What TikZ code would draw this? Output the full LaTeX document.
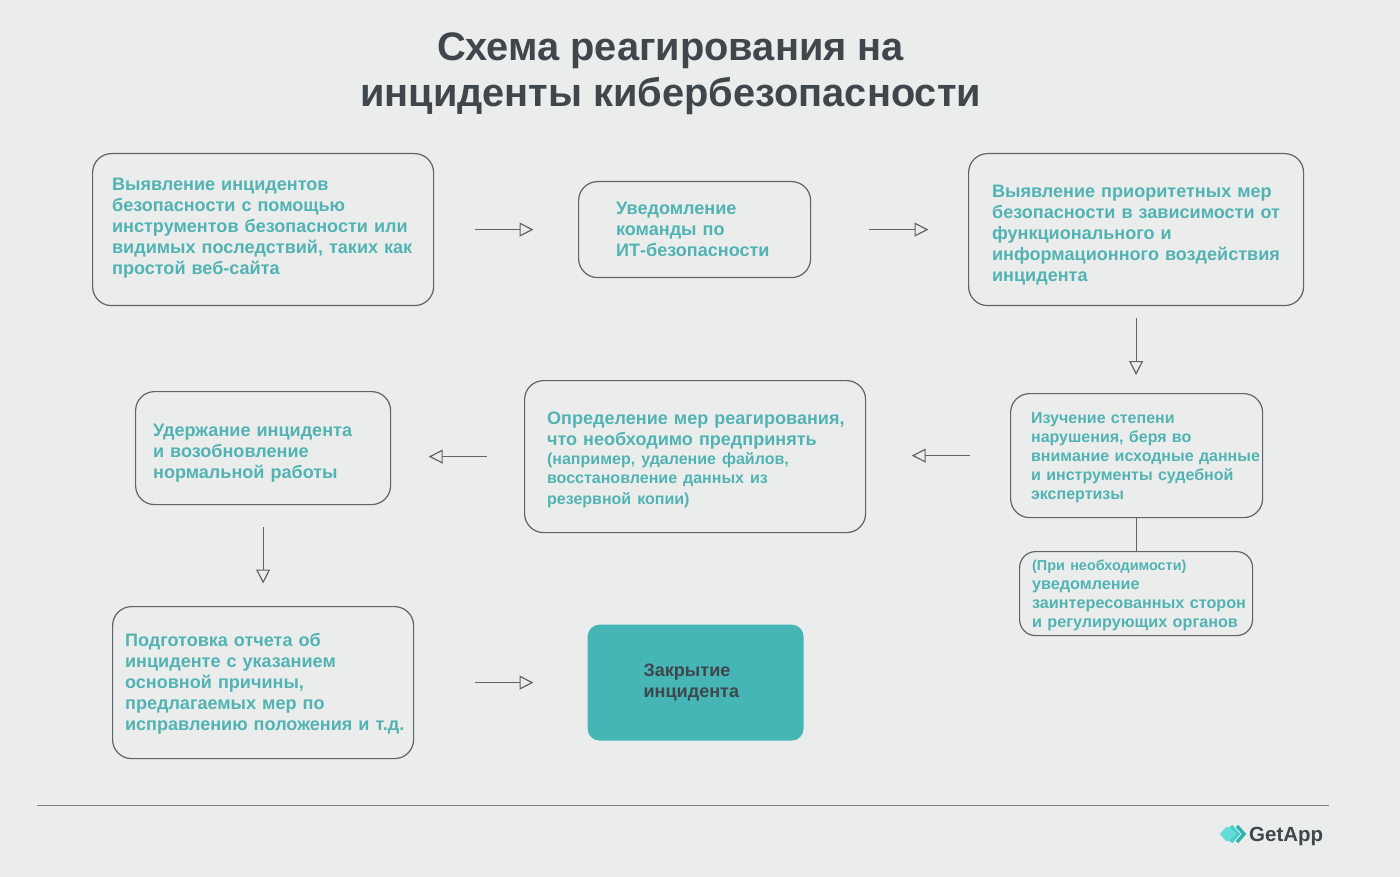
\documentclass[tikz,border=0pt]{standalone}
\usepackage{fontspec}
\setmainfont{Liberation Sans}
\usetikzlibrary{arrows.meta}
\definecolor{bgc}{HTML}{EBECEC}
\definecolor{tealt}{HTML}{52B3B3}
\definecolor{tealf}{HTML}{45B5B5}
\definecolor{dark}{HTML}{3F474D}
\definecolor{linec}{HTML}{5F6468}
\definecolor{logoa}{HTML}{62DEDA}
\definecolor{logob}{HTML}{48CFCB}
\definecolor{logoc}{HTML}{2FB5B1}
\newcommand{\fa}{\fontsize{18.05}{21}\selectfont\bfseries}
\newcommand{\fb}{\fontsize{16}{19}\selectfont\bfseries}
\newcommand{\fc}{\fontsize{16.2}{19}\selectfont\bfseries}
\newcommand{\fd}{\fontsize{14.4}{19}\selectfont\bfseries}
\newcommand{\ovl}[1]{\leavevmode\rlap{#1}}
\newcommand{\topstrut}[1]{\leavevmode\rule{0pt}{#1}}
\newcommand{\botstrut}[1]{\rule[-#1]{0pt}{#1}}
\tikzset{
 x=1pt,y=-1pt,
 box/.style={draw=linec,line width=1.2pt,rounded corners=19pt,inner sep=0pt,text=tealt,align=left,anchor=north west,font=\fa},
 flow/.style={draw=linec,line width=1.2pt,-{Triangle[open,length=14pt,width=14pt,fill=bgc]}},
 link/.style={draw=linec,line width=1.2pt},
 titlet/.style={text=dark,font=\fontsize{39.8}{46}\selectfont\bfseries,align=center,inner sep=0pt},
 chev/.style={line width=3.4pt,line join=miter},
}
\begin{document}
\begin{tikzpicture}
\fill[bgc] (0,0) rectangle (1400,877);
\useasboundingbox (0,0) rectangle (1400,877);
\node[titlet] (title) at (670.5,74) {Схема реагирования на\\инциденты кибербезопасности};
\node[box,minimum width=341pt,minimum height=152pt,text width=302pt] (a) at (92,153) {Выявление инцидентов\\безопасности с помощью\\инструментов безопасности или\\\ovl{видимых последствий, таких как}\\простой веб-сайта\botstrut{7pt}};
\node[box,minimum width=232pt,minimum height=96pt,text width=157pt] (b) at (578,181) {Уведомление\\команды по\\ИТ-безопасности};
\node[box,minimum width=335pt,minimum height=152pt,text width=288pt] (c) at (968,153) {\topstrut{24.3pt}Выявление приоритетных мер\\\ovl{безопасности в зависимости от}\\функционального и\\\ovl{информационного воздействия}\\инцидента};
\node[box,font=\fb,minimum width=252pt,minimum height=124pt,text width=211pt] (d) at (1010,393) {\topstrut{14.7pt}Изучение степени\\нарушения, беря во\\\ovl{внимание исходные данные}\\и инструменты судебной\\экспертизы};
\node[box,font=\fc,rounded corners=16pt,minimum width=233pt,minimum height=84pt,text width=208pt] (e) at (1019,551) {\topstrut{13.5pt}{\fd (При необходимости)}\\уведомление\\\ovl{заинтересованных сторон}\\и регулирующих органов};
\node[box,minimum width=341pt,minimum height=152pt,text width=296pt] (f) at (524,380) {\topstrut{19.5pt}\ovl{Определение мер реагирования,}\\что необходимо предпринять\\{\fb(например, удаление файлов,\\восстановление данных из\\резервной копии)}};
\node[box,minimum width=255pt,minimum height=113pt,text width=220pt] (g) at (135,391) {\topstrut{22.3pt}Удержание инцидента\\и возобновление\\нормальной работы};
\node[box,minimum width=301pt,minimum height=152pt,text width=276pt] (h) at (112,606) {\topstrut{15.3pt}Подготовка отчета об\\инциденте с указанием\\основной причины,\\предлагаемых мер по\\\ovl{исправлению положения и т.д.}};
\node[box,draw=none,fill=tealf,text=dark,rounded corners=12pt,minimum width=216pt,minimum height=116pt,text width=104pt] (i) at (587,624) {Закрытие\\инцидента};
\draw[flow,shorten <=41pt,shorten >=44.5pt] (a.east) -- (a.east -| b.west);
\draw[flow,shorten <=58pt,shorten >=39.5pt] (b.east) -- (b.east -| c.west);
\draw[flow,shorten <=12pt,shorten >=18pt] (c.south) -- (c.south |- d.north);
\draw[link] (d.south) -- (d.south |- e.north);
\draw[flow,shorten <=40pt,shorten >=45.5pt] (d.west) -- (d.west -| f.east);
\draw[flow,shorten <=37pt,shorten >=37.5pt] (f.west) -- (f.west -| g.east);
\draw[flow,shorten <=22pt,shorten >=22.5pt] (g.south) -- (g.south |- h.north);
\draw[flow,shorten <=61pt,shorten >=53.5pt] (h.east) -- (h.east -| i.west);
\coordinate (ruleL) at (37,805);
\coordinate (ruleR) at (1329,805);
\draw[draw=linec!80,line width=1pt] (ruleL) -- (ruleR);
\fill[logoa] (1220,834) -- (1226,827) -- (1231,827) -- (1235,834) -- (1231,841) -- (1226,841) -- cycle;
\draw[chev,draw=logob] (1231,826) -- (1238,834) -- (1231,842);
\draw[chev,draw=logoc] (1237,826) -- (1244,834) -- (1237,842);
\node[inner sep=0pt,anchor=west,text=dark,font=\fontsize{20.5}{24}\selectfont\bfseries] (logo) at (1249,836) {GetApp};
\end{tikzpicture}
\end{document}
